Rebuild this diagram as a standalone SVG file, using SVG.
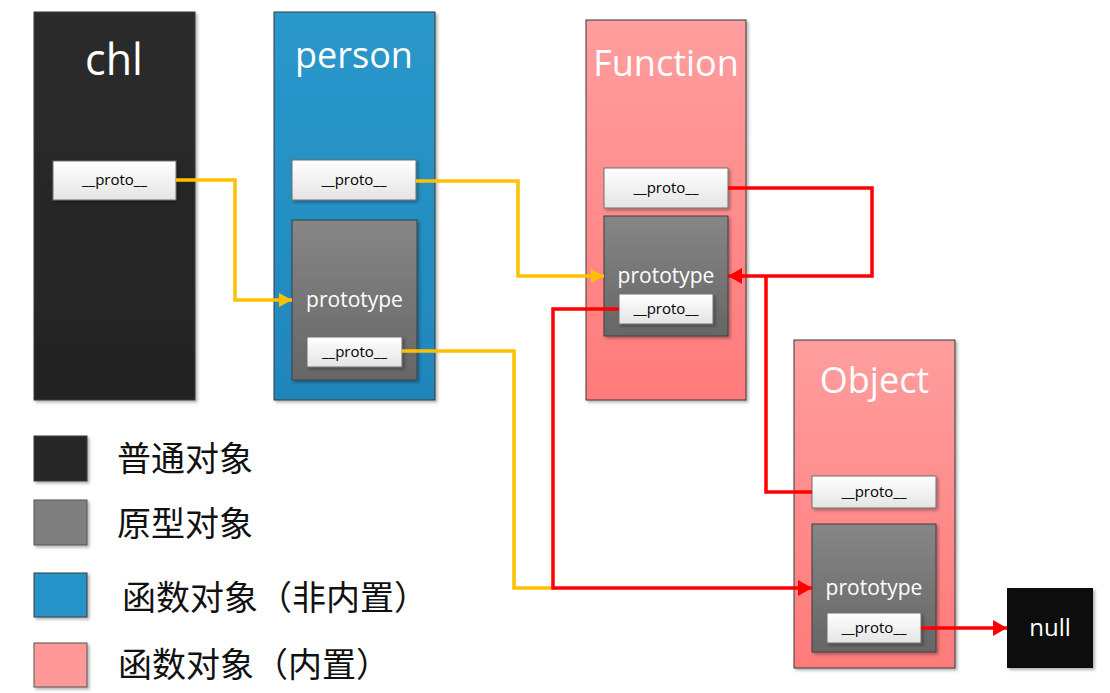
<svg xmlns="http://www.w3.org/2000/svg" width="1110" height="693" viewBox="0 0 1110 693">
<style>
.title{font-family:"Open Sans","Noto Sans",sans-serif;fill:#ffffff;text-anchor:middle}
.pt{font-family:"Open Sans","Noto Sans",sans-serif;fill:#ffffff;font-size:21px;text-anchor:middle}
.px{font-family:"Open Sans","Noto Sans",sans-serif;fill:#000000;font-size:15px;text-anchor:middle}
.lg{font-family:"Noto Sans CJK SC","Noto Sans",sans-serif;fill:#111111;font-size:34px}
.outer{stroke:#3a3a3a;stroke-width:1}
.protoBox{fill:url(#gWhite);stroke:#6f6f6f;stroke-width:1}
.protoType{fill:url(#gGray);stroke:#3f3f3f;stroke-width:1}
.yl{fill:none;stroke:#ffc000;stroke-width:3.5;stroke-linejoin:miter}
.rd{fill:none;stroke:#ff0000;stroke-width:3.5;stroke-linejoin:miter}
</style>
<defs>
<linearGradient id="gBlack" x1="0" y1="0" x2="0" y2="1"><stop offset="0" stop-color="#2c2c2c"/><stop offset="1" stop-color="#232323"/></linearGradient>
<linearGradient id="gBlue" x1="0" y1="0" x2="0" y2="1"><stop offset="0" stop-color="#2a98cb"/><stop offset="1" stop-color="#1f86bb"/></linearGradient>
<linearGradient id="gPink" x1="0" y1="0" x2="0" y2="1"><stop offset="0" stop-color="#ff9e9e"/><stop offset="1" stop-color="#ff7a7a"/></linearGradient>
<linearGradient id="gGray" x1="0" y1="0" x2="0" y2="1"><stop offset="0" stop-color="#868686"/><stop offset="1" stop-color="#666666"/></linearGradient>
<linearGradient id="gWhite" x1="0" y1="0" x2="0" y2="1"><stop offset="0" stop-color="#ffffff"/><stop offset="1" stop-color="#e4e4e4"/></linearGradient>
<filter id="sh" x="-10%" y="-10%" width="130%" height="130%"><feDropShadow dx="2" dy="2" stdDeviation="1.5" flood-color="#000" flood-opacity="0.3"/></filter>
<marker id="aY" markerUnits="userSpaceOnUse" markerWidth="14" markerHeight="14" refX="13" refY="7" orient="auto"><path d="M0,0 L13,7 L0,14 z" fill="#ffc000"/></marker>
<marker id="aR" markerUnits="userSpaceOnUse" markerWidth="15" markerHeight="16" refX="14" refY="8" orient="auto"><path d="M0,0 L14,8 L0,16 z" fill="#ff0000"/></marker>
</defs>
<rect width="1110" height="693" fill="#ffffff"/>

<g id="chl">
<rect x="34" y="12" width="161" height="388" fill="url(#gBlack)" class="outer" filter="url(#sh)"/>
<text x="114" y="75" class="title" font-size="43">chl</text>
<g id="chl-proto"><rect x="53" y="161" width="123" height="39" class="protoBox" filter="url(#sh)"/><text x="114.5" y="185" class="px">__proto__</text></g>
</g>

<g id="person">
<rect x="274" y="12" width="161" height="388" fill="url(#gBlue)" class="outer" filter="url(#sh)"/>
<text x="354" y="68" class="title" font-size="36">person</text>
<g id="person-proto"><rect x="292" y="160" width="124" height="40" class="protoBox" filter="url(#sh)"/><text x="354" y="185" class="px">__proto__</text></g>
<g id="person-prototype"><rect x="292" y="220" width="125" height="160" class="protoType" filter="url(#sh)"/><text x="354.5" y="307" class="pt">prototype</text>
<rect x="307" y="337" width="95" height="30" class="protoBox" filter="url(#sh)"/><text x="354.5" y="357" class="px">__proto__</text></g>
</g>

<g id="Function">
<rect x="586" y="20" width="160" height="380" fill="url(#gPink)" class="outer" filter="url(#sh)"/>
<text x="666" y="76" class="title" font-size="36">Function</text>
<g id="function-proto"><rect x="604" y="168" width="124" height="40" class="protoBox" filter="url(#sh)"/><text x="666" y="193" class="px">__proto__</text></g>
<g id="function-prototype"><rect x="604" y="216" width="124" height="120" class="protoType" filter="url(#sh)"/><text x="666" y="283" class="pt">prototype</text>
<rect x="619" y="294" width="94" height="30" class="protoBox" filter="url(#sh)"/><text x="666" y="314" class="px">__proto__</text></g>
</g>

<g id="Object">
<rect x="794" y="340" width="161" height="328" fill="url(#gPink)" class="outer" filter="url(#sh)"/>
<text x="874.5" y="393" class="title" font-size="36">Object</text>
<g id="object-proto"><rect x="812" y="476" width="124" height="32" class="protoBox" filter="url(#sh)"/><text x="874" y="497" class="px">__proto__</text></g>
<g id="object-prototype"><rect x="812" y="524" width="124" height="128" class="protoType" filter="url(#sh)"/><text x="874" y="595" class="pt">prototype</text>
<rect x="827" y="613" width="94" height="30" class="protoBox" filter="url(#sh)"/><text x="874" y="633" class="px">__proto__</text></g>
</g>

<g id="null">
<rect x="1007" y="588" width="86" height="80" fill="#0a0a0a" filter="url(#sh)"/>
<text x="1050" y="636" class="title" font-size="24">null</text>
</g>

<g id="connectors">
<path class="yl" d="M176,180 H235 V300 H292" marker-end="url(#aY)"/>
<path class="yl" d="M416,181 H518 V276 H604" marker-end="url(#aY)"/>
<path class="yl" d="M402,351 H514 V588 H555"/>
<path class="rd" d="M728,188 H872 V276 H728" marker-end="url(#aR)"/>
<path class="rd" d="M766,276 V492 H812"/>
<path class="rd" d="M619,309 H553 V588 H812" marker-end="url(#aR)"/>
<path class="rd" d="M921,628 H1007" marker-end="url(#aR)"/>
</g>

<g id="legend">
<rect x="34" y="436" width="53" height="45" fill="#262626" stroke="#3a3a3a" filter="url(#sh)"/>
<rect x="34" y="500" width="53" height="45" fill="#7f7f7f" stroke="#555" filter="url(#sh)"/>
<rect x="34" y="573" width="53" height="44" fill="#2594c8" stroke="#3a3a3a" filter="url(#sh)"/>
<rect x="34" y="643" width="53" height="44" fill="#ff9999" stroke="#555" filter="url(#sh)"/>
<text x="117" y="471" class="lg">普通对象</text>
<text x="117" y="536" class="lg">原型对象</text>
<text x="122" y="610" class="lg">函数对象（非内置）</text>
<text x="118" y="677" class="lg">函数对象（内置）</text>
</g>
</svg>
